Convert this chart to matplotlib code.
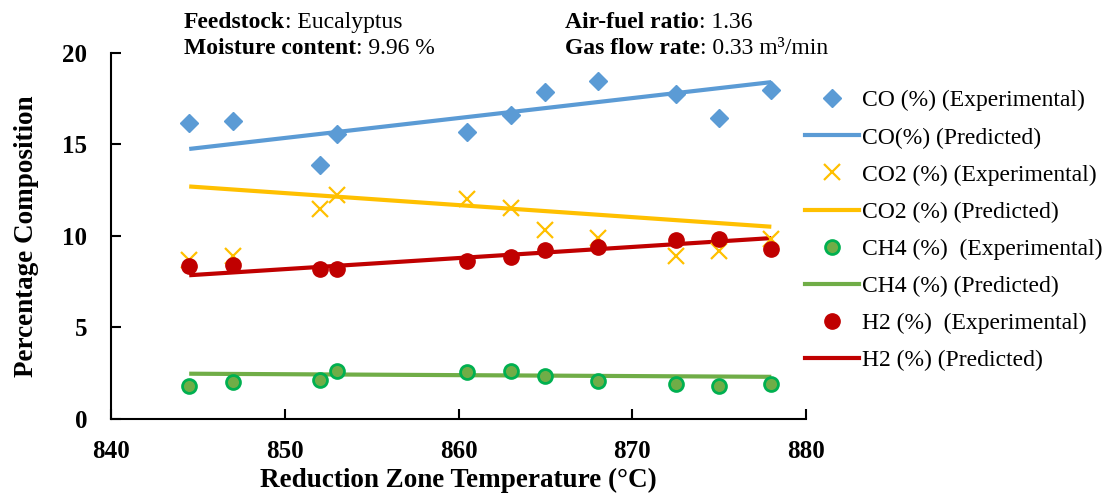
import matplotlib.pyplot as plt
from matplotlib.lines import Line2D

plt.rcParams['font.family'] = ['Liberation Serif', 'DejaVu Serif']

# Reduction zone temperature (°C) for each run
temperature = [844.5, 847, 852, 853, 860.5, 863, 865, 868, 872.5, 875, 878]

# Measured gas composition (%)
co_exp = [16.15, 16.3, 13.85, 15.55, 15.7, 16.6, 17.85, 18.45, 17.75, 16.45, 17.95]
co2_exp = [8.7, 8.9, 11.45, 12.25, 12.0, 11.55, 10.3, 9.9, 8.9, 9.2, 9.85]
ch4_exp = [1.82, 2.04, 2.13, 2.6, 2.55, 2.64, 2.33, 2.08, 1.9, 1.8, 1.9]
h2_exp = [8.35, 8.4, 8.2, 8.18, 8.63, 8.87, 9.23, 9.38, 9.78, 9.85, 9.3]

# Model predictions at the end points of the temperature range
pred_temp = [844.5, 878]
co_pred = [14.75, 18.4]
co2_pred = [12.7, 10.5]
ch4_pred = [2.47, 2.3]
h2_pred = [7.85, 9.88]

c_co = '#5B9BD5'
c_co2 = '#FFC000'
c_ch4 = '#70AD47'
c_ch4_edge = '#00B050'
c_h2 = '#C00000'

fig = plt.figure(figsize=(11.18, 4.94), dpi=100)
ax = fig.add_axes([0.0993, 0.152, 0.6217, 0.741])

ax.plot(pred_temp, co_pred, color=c_co, lw=3, solid_capstyle='butt')
ax.plot(pred_temp, co2_pred, color=c_co2, lw=3, solid_capstyle='butt')
ax.plot(pred_temp, ch4_pred, color=c_ch4, lw=3, solid_capstyle='butt')
ax.plot(pred_temp, h2_pred, color=c_h2, lw=3, solid_capstyle='butt')

ax.plot(temperature, co_exp, 'D', color=c_co, ms=9, mec=c_co)
ax.plot(temperature, co2_exp, 'x', color=c_co2, ms=11, mew=1.6)
ax.plot(temperature, ch4_exp, 'o', color=c_ch4, ms=10, mec=c_ch4_edge, mew=2)
ax.plot(temperature, h2_exp, 'o', color=c_h2, ms=11, mec=c_h2)

ax.set_xlim(840, 880)
ax.set_ylim(0, 20)
ax.set_xticks([840, 850, 860, 870, 880])
ax.set_yticks([0, 5, 10, 15, 20])
ax.spines['top'].set_visible(False)
ax.spines['right'].set_visible(False)
for s in ('left', 'bottom'):
    ax.spines[s].set_linewidth(1.5)
ax.tick_params(direction='in', length=7, width=1.5, labelsize=18)
ax.tick_params(axis='y', pad=17)
ax.tick_params(axis='x', pad=15)
for lbl in ax.get_xticklabels() + ax.get_yticklabels():
    lbl.set_fontweight('bold')

ax.set_xlabel('Reduction Zone Temperature (°C)', fontsize=19.5, fontweight='bold', labelpad=4)
ax.set_ylabel('Percentage Composition', fontsize=19.5, fontweight='bold', labelpad=17)

# Operating conditions above the plot
def info(x, y, key, value):
    t = fig.text(x, y, key, fontsize=17, fontweight='bold', va='baseline')
    ax.annotate(value, xy=(1, 0), xycoords=t, fontsize=17, va='bottom',
                annotation_clip=False)

info(0.1645, 0.943, 'Feedstock', ': Eucalyptus')
info(0.1645, 0.891, 'Moisture content', ': 9.96 %')
info(0.5055, 0.943, 'Air-fuel ratio', ': 1.36')
info(0.5055, 0.891, 'Gas flow rate', ': 0.33 m³/min')

handles = [
    Line2D([], [], ls='none', marker='D', color=c_co, ms=9),
    Line2D([], [], color=c_co, lw=3),
    Line2D([], [], ls='none', marker='x', color=c_co2, ms=11, mew=1.6),
    Line2D([], [], color=c_co2, lw=3),
    Line2D([], [], ls='none', marker='o', color=c_ch4, ms=10, mec=c_ch4_edge, mew=2),
    Line2D([], [], color=c_ch4, lw=3),
    Line2D([], [], ls='none', marker='o', color=c_h2, ms=11, mec=c_h2),
    Line2D([], [], color=c_h2, lw=3),
]
labels = [
    'CO (%) (Experimental)',
    'CO(%) (Predicted)',
    'CO2 (%) (Experimental)',
    'CO2 (%) (Predicted)',
    'CH4 (%)  (Experimental)',
    'CH4 (%) (Predicted)',
    'H2 (%)  (Experimental)',
    'H2 (%) (Predicted)',
]
fig.legend(handles, labels, loc='upper left', bbox_to_anchor=(0.72, 0.818),
           frameon=False, fontsize=17, handlelength=2.3, handletextpad=0.1,
           labelspacing=0.66, borderaxespad=0, borderpad=0)

fig.savefig('out.png', dpi=100)
